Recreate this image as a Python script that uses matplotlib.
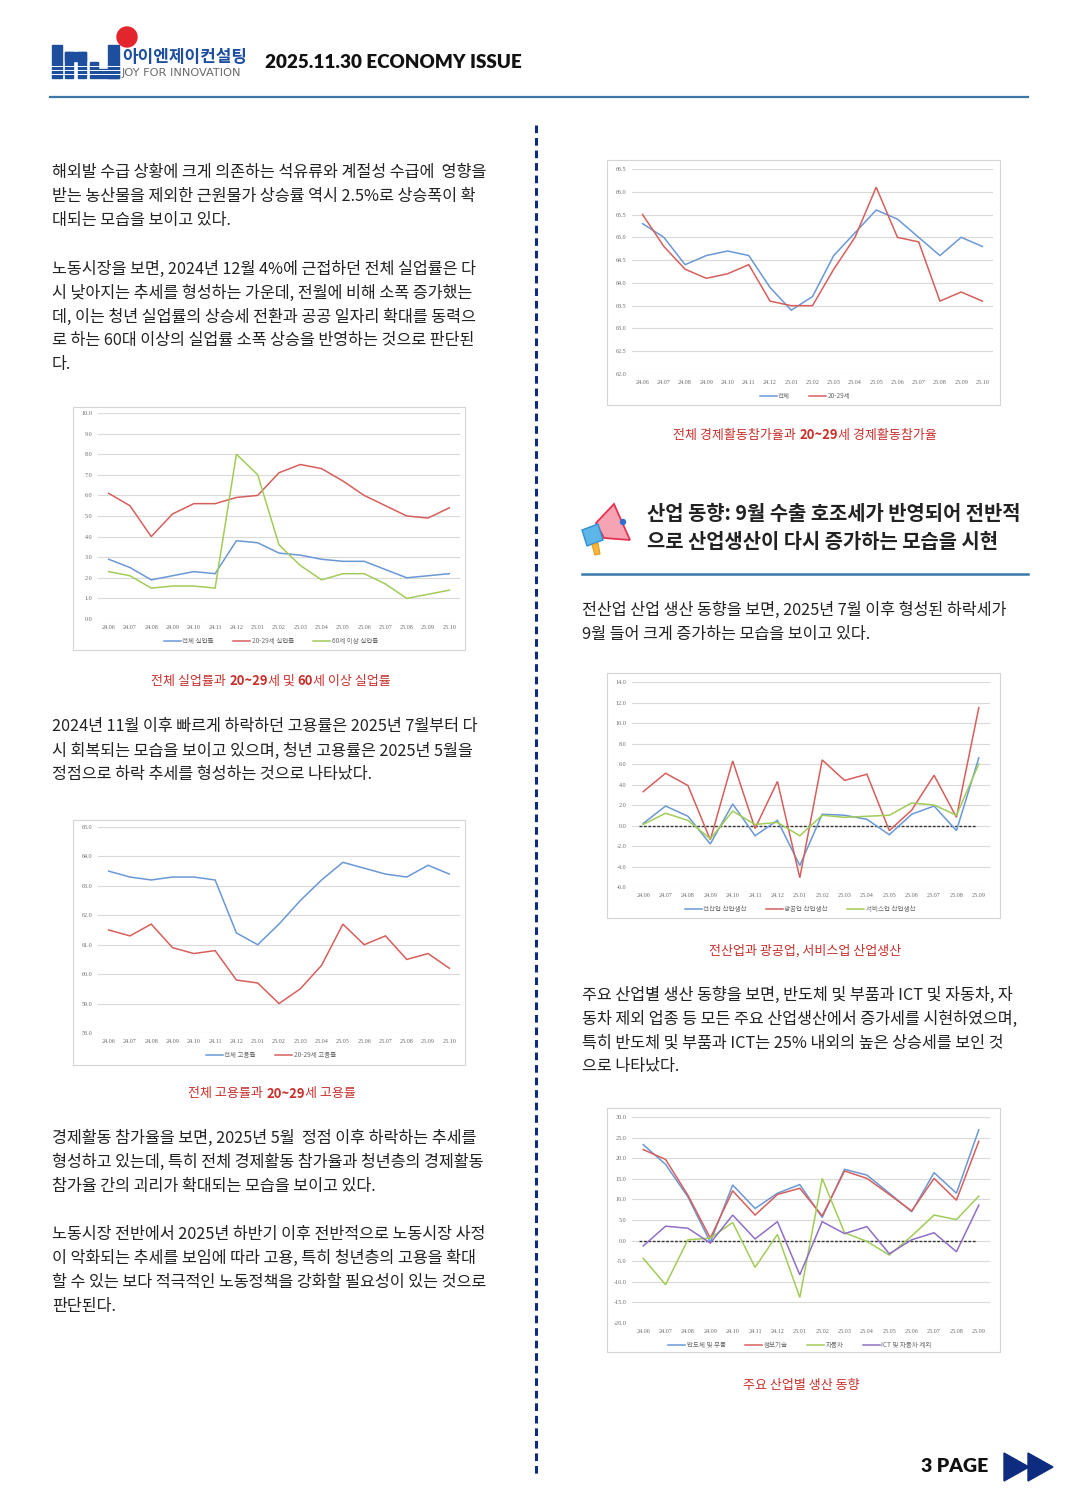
import numpy as np
import matplotlib
matplotlib.use("Agg")
import matplotlib.pyplot as plt
from matplotlib.patches import Rectangle, Polygon, Circle

plt.rcParams['font.family'] = ['Noto Sans CJK KR', 'DejaVu Sans']

W, H = 1080, 1500

# ---- 데이터 ----
months17 = ["24.06", "24.07", "24.08", "24.09", "24.10", "24.11", "24.12", "25.01", "25.02",
            "25.03", "25.04", "25.05", "25.06", "25.07", "25.08", "25.09", "25.10"]
months16 = months17[:16]

# 실업률
unemp_total = [2.9, 2.5, 1.9, 2.1, 2.3, 2.2, 3.8, 3.7, 3.2, 3.1, 2.9, 2.8, 2.8, 2.4, 2.0, 2.1, 2.2]
unemp_2029 = [6.1, 5.5, 4.0, 5.1, 5.6, 5.6, 5.9, 6.0, 7.1, 7.5, 7.3, 6.7, 6.0, 5.5, 5.0, 4.9, 5.4]
unemp_60 = [2.3, 2.1, 1.5, 1.6, 1.6, 1.5, 8.0, 7.0, 3.6, 2.6, 1.9, 2.2, 2.2, 1.7, 1.0, 1.2, 1.4]
unemp_names = ["전체 실업률", "20-29세 실업률", "60세 이상 실업률"]

# 고용률
emp_total = [63.5, 63.3, 63.2, 63.3, 63.3, 63.2, 61.4, 61.0, 61.7, 62.5, 63.2, 63.8, 63.6, 63.4, 63.3, 63.7, 63.4]
emp_2029 = [61.5, 61.3, 61.7, 60.9, 60.7, 60.8, 59.8, 59.7, 59.0, 59.5, 60.3, 61.7, 61.0, 61.3, 60.5, 60.7, 60.2]
emp_names = ["전체 고용률", "20-29세 고용률"]

# 경제활동참가율
part_total = [65.3, 65.0, 64.4, 64.6, 64.7, 64.6, 63.9, 63.4, 63.7, 64.6, 65.1, 65.6, 65.4, 65.0, 64.6, 65.0, 64.8]
part_2029 = [65.5, 64.8, 64.3, 64.1, 64.2, 64.4, 63.6, 63.5, 63.5, 64.3, 65.0, 66.1, 65.0, 64.9, 63.6, 63.8, 63.6]
part_names = ["전체", "20-29세"]

# 산업생산
prod_all = [0.2, 1.9, 0.9, -1.8, 2.1, -1.0, 0.5, -3.9, 1.1, 1.0, 0.6, -0.9, 1.1, 1.9, -0.5, 6.6]
prod_mining = [3.3, 5.1, 3.9, -1.4, 6.3, -0.3, 4.3, -5.1, 6.4, 4.4, 5.0, -0.5, 1.5, 4.9, 0.8, 11.5]
prod_service = [0.1, 1.2, 0.5, -1.3, 1.4, 0.1, 0.3, -1.0, 1.0, 0.8, 0.9, 1.0, 2.2, 2.0, 1.0, 6.0]
prod_names = ["전산업 산업생산", "광공업 산업생산", "서비스업 산업생산"]

# 주요 산업별
ind_semi = [23.3, 18.5, 10.6, -0.4, 13.5, 7.8, 11.5, 13.6, 5.6, 17.3, 15.9, 11.5, 7.0, 16.5, 11.5, 26.9]
ind_it = [22.1, 19.7, 11.0, 0.6, 12.1, 6.2, 11.2, 12.7, 6.0, 16.9, 15.1, 11.2, 7.2, 15.1, 9.8, 24.1]
ind_auto = [-4.3, -10.7, 0.2, 0.6, 4.4, -6.5, 1.5, -13.8, 15.1, 1.9, -0.2, -3.5, 1.1, 6.2, 5.1, 10.8]
ind_other = [-1.3, 3.5, 3.0, -0.6, 6.2, 0.4, 4.6, -8.3, 4.6, 1.7, 3.4, -3.2, 0.2, 1.9, -2.7, 8.6]
ind_names = ["반도체 및 부품", "정보기술", "자동차", "ICT 및 자동차 제외"]

BLUE, RED, GREEN, PURPLE = "#6a98d6", "#d65f5c", "#a2cc58", "#8f6fc6"
TXT = "#222222"
CAP = "#c9302c"
RULE = "#3b77a8"
NAVY = "#0d2c80"
BODY = 11.7
CAPS = 9.4

fig = plt.figure(figsize=(W / 100, H / 100), dpi=100)
fig.patch.set_facecolor("white")

# 배경 축 (픽셀 좌표)
bg = fig.add_axes([0, 0, 1, 1])
bg.set_xlim(0, W)
bg.set_ylim(H, 0)
bg.axis("off")
renderer = fig.canvas.get_renderer()


def runs(x, y, parts, size, color, center=False):
    # parts: (문자열, 굵기) 목록을 이어서 그림
    widths = []
    for s, wgt in parts:
        t = bg.text(0, 0, s, fontsize=size, fontweight=wgt)
        widths.append(t.get_window_extent(renderer).width)
        t.remove()
    if center:
        x = x - sum(widths) / 2
    for (s, wgt), w in zip(parts, widths):
        bg.text(x, y, s, fontsize=size, fontweight=wgt, color=color, va="center", ha="left")
        x += w


def para(x, y0, lines, size=BODY, step=24):
    for i, ln in enumerate(lines):
        bg.text(x, y0 + i * step, ln, fontsize=size, color=TXT, va="center", ha="left")


# ---- 헤더 ----
blue_logo = "#1d4f9e"
bg.add_patch(Rectangle((52, 45), 10, 33, color=blue_logo))
bg.add_patch(Rectangle((65, 52), 8, 26, color=blue_logo))
bg.add_patch(Rectangle((65, 52), 21, 9, color=blue_logo))
bg.add_patch(Rectangle((78, 52), 8, 26, color=blue_logo))
bg.add_patch(Rectangle((108, 45), 11, 33, color=blue_logo))
bg.add_patch(Rectangle((90, 69), 29, 9, color=blue_logo))
bg.add_patch(Rectangle((90, 62), 8, 9, color=blue_logo))
for yy in [66, 70, 74]:
    bg.plot([50, 121], [yy, yy], color="white", lw=0.7)
bg.add_patch(Circle((127, 37), 10, color="#e3262d"))
bg.text(122, 57, "아이엔제이컨설팅", fontsize=12.2, fontweight="bold", color=blue_logo, va="center")
bg.text(122, 73, "JOY FOR INNOVATION", fontsize=8.2, color="#6b6b6b", va="center",
        family="DejaVu Sans")
bg.text(265, 63, "2025.11.30 ECONOMY ISSUE", fontsize=13.6, fontweight="heavy", color="#111111",
        va="center", family="Lato")
bg.plot([50, 1028], [97, 97], color=RULE, lw=1.6)

# 세로 점선
bg.plot([536, 536], [125, 1475], color=NAVY, lw=2.2, linestyle=(0, (2.5, 1.6)))

# ---- 왼쪽 본문 ----
para(52, 173, ["해외발 수급 상황에 크게 의존하는 석유류와 계절성 수급에  영향을",
               "받는 농산물을 제외한 근원물가 상승률 역시 2.5%로 상승폭이 확",
               "대되는 모습을 보이고 있다."])
para(52, 269, ["노동시장을 보면, 2024년 12월 4%에 근접하던 전체 실업률은 다",
               "시 낮아지는 추세를 형성하는 가운데, 전월에 비해 소폭 증가했는",
               "데, 이는 청년 실업률의 상승세 전환과 공공 일자리 확대를 동력으",
               "로 하는 60대 이상의 실업률 소폭 상승을 반영하는 것으로 판단된",
               "다."])
runs(271, 681, [("전체 실업률과 ", "normal"), ("20~29", "bold"), ("세 및 ", "normal"),
                ("60", "bold"), ("세 이상 실업률", "normal")], CAPS, CAP, center=True)
para(52, 727, ["2024년 11월 이후 빠르게 하락하던 고용률은 2025년 7월부터 다",
               "시 회복되는 모습을 보이고 있으며, 청년 고용률은 2025년 5월을",
               "정점으로 하락 추세를 형성하는 것으로 나타났다."])
runs(272, 1094, [("전체 고용률과 ", "normal"), ("20~29", "bold"), ("세 고용률", "normal")],
     CAPS, CAP, center=True)
para(52, 1138, ["경제활동 참가율을 보면, 2025년 5월  정점 이후 하락하는 추세를",
                "형성하고 있는데, 특히 전체 경제활동 참가율과 청년층의 경제활동",
                "참가율 간의 괴리가 확대되는 모습을 보이고 있다."])
para(52, 1234, ["노동시장 전반에서 2025년 하반기 이후 전반적으로 노동시장 사정",
                "이 악화되는 추세를 보임에 따라 고용, 특히 청년층의 고용을 확대",
                "할 수 있는 보다 적극적인 노동정책을 강화할 필요성이 있는 것으로",
                "판단된다."])

# ---- 오른쪽 본문 ----
runs(805, 435, [("전체 경제활동참가율과 ", "normal"), ("20~29", "bold"),
                ("세 경제활동참가율", "normal")], CAPS, CAP, center=True)

# 확성기 아이콘
bg.add_patch(Polygon([(596, 523), (614, 504), (630, 540), (604, 538)], closed=True,
                     facecolor="#f6a3b3", edgecolor="#e5334f", lw=1.3))
bg.add_patch(Polygon([(582, 530), (598, 524), (603, 540), (587, 546)], closed=True,
                     facecolor="#5db6ea", edgecolor="#2f8fd0", lw=1))
bg.add_patch(Polygon([(592, 545), (598, 543), (600, 554), (595, 555)], closed=True,
                     facecolor="#f5b83d", edgecolor="#e49a1c", lw=0.8))
bg.add_patch(Circle((623, 522), 2.5, color="#2f6fd0"))

bg.text(647, 513, "산업 동향: 9월 수출 호조세가 반영되어 전반적", fontsize=14.3, fontweight="bold",
        color="#222222", va="center")
bg.text(647, 542, "으로 산업생산이 다시 증가하는 모습을 시현", fontsize=14.3, fontweight="bold",
        color="#222222", va="center")
bg.plot([582, 1028], [574, 574], color=RULE, lw=1.8)

para(582, 610, ["전산업 산업 생산 동향을 보면, 2025년 7월 이후 형성된 하락세가",
                "9월 들어 크게 증가하는 모습을 보이고 있다."])
runs(805, 951, [("전산업과 광공업, 서비스업 산업생산", "normal")], CAPS, CAP, center=True)
para(582, 995, ["주요 산업별 생산 동향을 보면, 반도체 및 부품과 ICT 및 자동차, 자",
                "동차 제외 업종 등 모든 주요 산업생산에서 증가세를 시현하였으며,",
                "특히 반도체 및 부품과 ICT는 25% 내외의 높은 상승세를 보인 것",
                "으로 나타났다."])
runs(801, 1385, [("주요 산업별 생산 동향", "normal")], CAPS, CAP, center=True)

# ---- 꼬리말 ----
bg.text(988, 1467, "3 PAGE", fontsize=14, fontweight="heavy", color="#111111", va="center",
        ha="right", family="Lato")
bg.add_patch(Polygon([(1004, 1453), (1004, 1481), (1029, 1467)], color=NAVY))
bg.add_patch(Polygon([(1028, 1453), (1028, 1481), (1053, 1467)], color=NAVY))


# ---- 차트 ----
def chart(frame, plot, labels, series, names, colors, ylim, yticks, legend_xy, zero=False):
    fx0, fy0, fx1, fy1 = frame
    bg.add_patch(Rectangle((fx0, fy0), fx1 - fx0, fy1 - fy0, facecolor="white",
                           edgecolor="#d4d4d4", lw=0.8))
    x0, y0, x1, y1 = plot
    ax = fig.add_axes([x0 / W, 1 - y1 / H, (x1 - x0) / W, (y1 - y0) / H])
    ax.patch.set_alpha(0)
    xs = np.arange(len(labels))
    handles = []
    for vals, c in zip(series, colors):
        h, = ax.plot(xs, vals, color=c, lw=1.1, solid_joinstyle="miter")
        handles.append(h)
    if zero:
        ax.axhline(0, xmin=0.02, xmax=0.96, color="#333333", lw=1.0, linestyle=(0, (2, 1.2)),
                   zorder=1)
    ax.set_xlim(-0.5, len(labels) - 0.5)
    ax.set_ylim(*ylim)
    ax.set_yticks(yticks)
    ax.set_yticklabels([f"{v:.1f}" for v in yticks], family="Liberation Serif")
    ax.set_xticks(xs)
    ax.set_xticklabels(labels, family="Liberation Serif")
    ax.tick_params(length=0, labelsize=4.4, labelcolor="#6b6b6b", pad=4)
    ax.grid(axis="y", color="#d9d9d9", lw=0.8)
    ax.set_axisbelow(True)
    for s in ax.spines.values():
        s.set_visible(False)
    fig.legend(handles, names, loc="center", bbox_to_anchor=(legend_xy[0] / W, 1 - legend_xy[1] / H),
               ncol=len(names), frameon=False, prop={"size": 4.7}, labelcolor="#6b6b6b",
               handlelength=2.6, handletextpad=0.2, columnspacing=3.0)
    return ax


chart((73, 407, 465, 650), (98, 413, 460, 619), months17,
      [unemp_total, unemp_2029, unemp_60], unemp_names, [BLUE, RED, GREEN],
      (0, 10), np.arange(0, 10.1, 1.0), (271, 641))

chart((73, 820, 465, 1065), (98, 827, 460, 1033), months17,
      [emp_total, emp_2029], emp_names, [BLUE, RED],
      (58, 65), np.arange(58, 65.1, 1.0), (271, 1055))

chart((607, 160, 1000, 405), (632, 169, 993, 374), months17,
      [part_total, part_2029], part_names, [BLUE, RED],
      (62, 66.5), np.arange(62, 66.6, 0.5), (805, 396))

chart((607, 673, 1000, 918), (632, 682, 990, 887), months16,
      [prod_all, prod_mining, prod_service], prod_names, [BLUE, RED, GREEN],
      (-6, 14), np.arange(-6, 14.1, 2.0), (800, 909), zero=True)

chart((607, 1108, 1000, 1352), (632, 1117, 990, 1323), months16,
      [ind_semi, ind_it, ind_auto, ind_other], ind_names, [BLUE, RED, GREEN, PURPLE],
      (-20, 30), np.arange(-20, 30.1, 5.0), (800, 1345), zero=True)

fig.savefig("out.png", dpi=100, facecolor="white")
